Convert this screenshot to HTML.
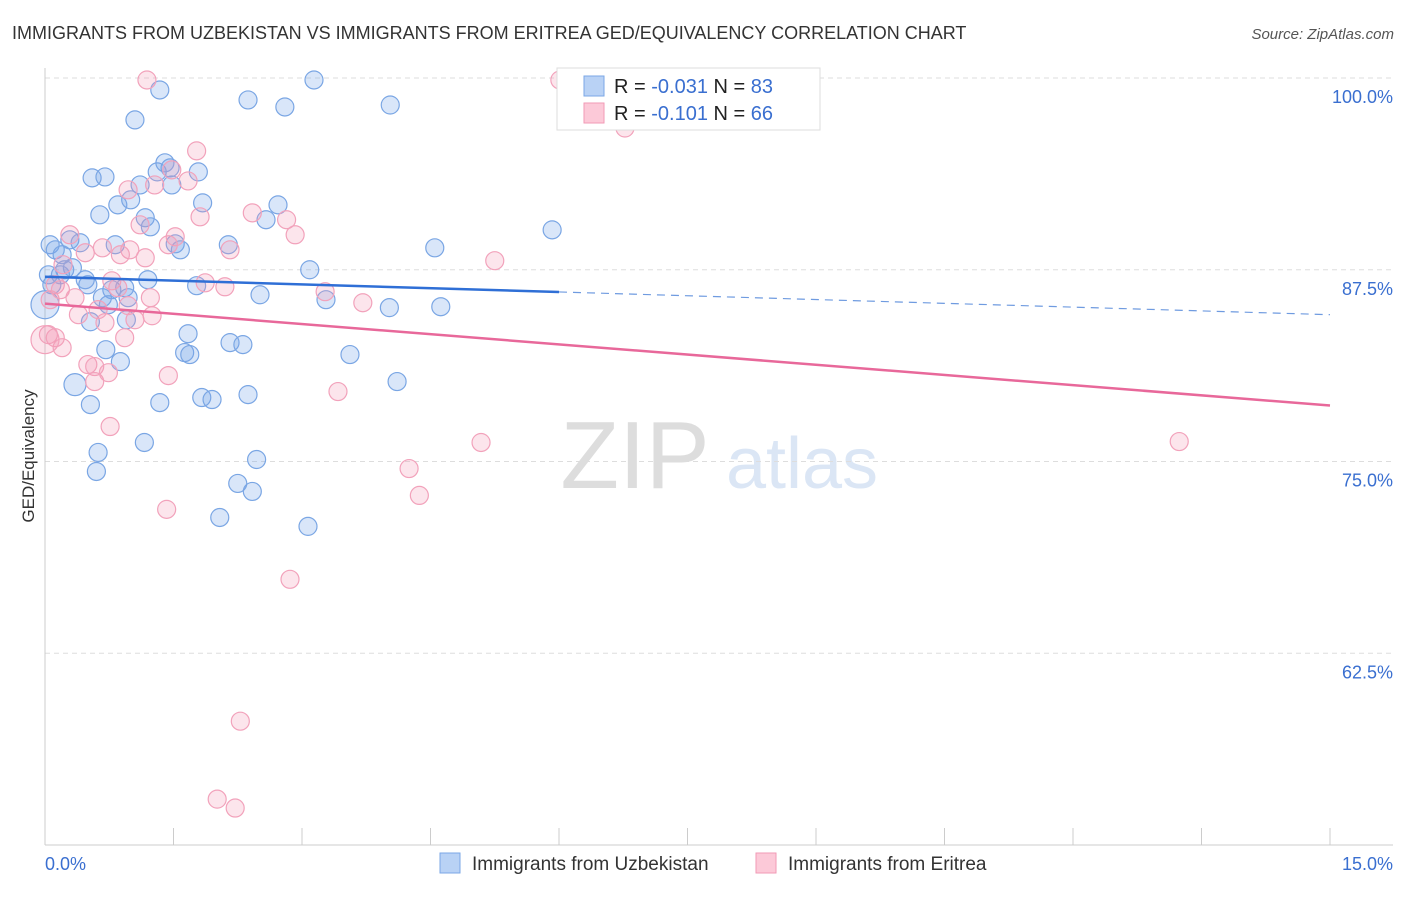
<!DOCTYPE html>
<html><head><meta charset="utf-8"><style>
body{margin:0;background:#fff;font-family:"Liberation Sans",sans-serif;}
svg text{font-family:"Liberation Sans",sans-serif;}
</style></head><body>
<svg id="chart" width="1406" height="892" viewBox="0 0 1406 892" xmlns="http://www.w3.org/2000/svg">
<text x="12" y="39" font-size="18" fill="#333">IMMIGRANTS FROM UZBEKISTAN VS IMMIGRANTS FROM ERITREA GED/EQUIVALENCY CORRELATION CHART</text>
<text x="1394" y="39" font-size="15" fill="#555" font-style="italic" text-anchor="end">Source: ZipAtlas.com</text>
<g>
<text x="635" y="488" font-size="96" fill="#ddd" font-family="Liberation Serif" text-anchor="middle">ZIP</text>
<text x="802" y="488" font-size="72" fill="#dbe6f5" text-anchor="middle">atlas</text>
</g>
<g id="grid"></g>
<g id="axes"></g>
<g id="pts"></g>
<g id="trend"></g>
<text transform="translate(34,456) rotate(-90)" font-size="17" fill="#333" text-anchor="middle">GED/Equivalency</text>
<g>
<rect x="557" y="68" width="263" height="62" fill="#fff" stroke="#ddd"/>
<rect x="584" y="76" width="20" height="20" fill="#b9d2f5" stroke="#7ba7e6"/>
<rect x="584" y="103" width="20" height="20" fill="#fcc9d8" stroke="#f29ab6"/>
<text x="614" y="93" font-size="20" fill="#222">R = <tspan fill="#3a6fd0">-0.031</tspan>   N = <tspan fill="#3a6fd0">83</tspan></text>
<text x="614" y="120" font-size="20" fill="#222">R =  <tspan fill="#3a6fd0">-0.101</tspan>   N = <tspan fill="#3a6fd0">66</tspan></text>
</g>
<g>
<rect x="440" y="853" width="20" height="20" fill="#b9d2f5" stroke="#7ba7e6"/>
<text x="472" y="870" font-size="19" fill="#333">Immigrants from Uzbekistan</text>
<rect x="756" y="853" width="20" height="20" fill="#fcc9d8" stroke="#f29ab6"/>
<text x="788" y="870" font-size="19" fill="#333">Immigrants from Eritrea</text>
</g>
</svg>
<script>
const yTicks=[100,87.5,75,62.5];
const yTickLabels=["100.0%","87.5%","75.0%","62.5%"];
const xTickLabels=["0.0%","15.0%"];
const blueX=[.06,.12,.20,.29,.04,.08,.18,.23,.32,.41,.47,.50,.53,.53,.62,.60,.64,.55,.70,.85,.82,.78,.74,.67,.71,.88,.93,.97,.95,1.05,1.00,1.11,1.17,1.23,1.20,1.16,1.34,1.31,1.40,1.46,1.48,1.52,1.58,1.79,1.84,1.34,1.67,1.63,1.69,1.77,1.83,1.95,2.14,2.16,2.31,2.37,2.37,2.25,2.42,2.47,2.04,2.51,2.58,2.72,2.80,3.14,3.09,3.28,3.07,3.56,4.03,4.02,4.11,4.55,4.62,5.92,0,.35];
const blueY=[89.13,88.80,88.48,89.45,87.17,86.52,87.17,87.50,87.63,89.26,86.85,86.52,84.11,78.71,75.59,74.35,91.08,93.49,93.55,91.73,89.13,86.20,85.22,85.68,82.29,81.51,86.33,85.68,84.24,97.27,92.06,93.03,90.89,90.30,86.85,76.24,99.22,93.88,94.47,94.14,93.03,89.19,88.80,93.88,91.86,78.84,83.33,82.10,81.97,86.46,79.17,79.04,89.13,82.75,82.62,98.57,79.36,73.57,73.05,75.13,71.35,85.87,90.76,91.73,98.11,99.87,87.50,85.55,70.77,81.97,98.24,85.03,80.21,88.93,85.09,90.10,85.22,80.01];
const pinkX=[1.19,6.01,6.77,1.77,1.67,1.28,.97,1.48,1.81,2.42,2.82,2.92,2.16,2.10,1.87,1.52,1.44,1.17,1.11,.99,.88,.67,.47,.29,.21,.12,.06,.18,.35,.39,.70,.78,.85,.93,1.23,1.25,1.05,.97,.62,.50,.58,.58,.74,.04,.12,.20,.76,1.44,1.42,2.86,3.27,3.71,3.42,4.25,4.37,5.09,5.25,13.24,2.28,2.01,2.22,0];
const pinkY=[99.87,99.87,96.74,95.25,93.29,93.03,92.71,94.01,90.95,91.21,90.76,89.78,88.80,86.39,86.65,89.65,89.13,88.28,90.43,88.80,88.48,88.93,88.61,89.78,87.83,86.52,85.55,86.20,85.68,84.57,84.05,86.78,86.33,83.07,85.68,84.50,84.24,85.16,84.90,81.32,81.19,80.21,80.79,83.27,83.07,82.42,77.28,80.60,71.88,67.32,86.07,85.35,79.56,74.54,72.79,76.24,88.09,76.30,58.07,52.99,52.41,82.94];
const blueTrend=[87.04,84.57];
const pinkTrend=[85.29,78.65];
const NS="http://www.w3.org/2000/svg";
const X=v=>45+v/15*1285, Y=v=>78+(100-v)/50*767;
function mk(t,a,p){const e=document.createElementNS(NS,t);for(const k in a)e.setAttribute(k,a[k]);document.getElementById(p).appendChild(e);return e;}
yTicks.forEach((t,i)=>{
 const g=mk('line',{x1:45,x2:1393,y1:Y(t),y2:Y(t),stroke:'#ddd','stroke-dasharray':'5,4'},'grid');
 
 
 const l=mk('text',{x:1393,y:Y(t)+25,'font-size':18,fill:'#3a6fd0','text-anchor':'end'},'axes');
 l.textContent=yTickLabels[i];
 
 
});
mk('line',{x1:45,x2:45,y1:68,y2:845,stroke:'#ccc'},'axes');
mk('line',{x1:45,x2:1393,y1:845,y2:845,stroke:'#ccc'},'axes');
for(let i=0;i<=10;i++){const t=mk('line',{x1:X(i*1.5),x2:X(i*1.5),y1:828,y2:845,stroke:'#ccc'},'axes');
 
 }
[[0,'start'],[15,'end']].forEach((d,i)=>{const l=mk('text',{x:i?1393:45,y:870,'font-size':18,fill:'#3a6fd0','text-anchor':d[1]},'axes');
 l.textContent=xTickLabels[i];
 
 });
function pts(xs,ys,fill,stroke,name){xs.forEach((x,i)=>{const r=(x===0)?14:(i===xs.length-1&&name==='uzbekistan-point')?11:9;
 const c=mk('circle',{cx:X(x),cy:Y(ys[i]),r:r,fill:fill,stroke:stroke,'stroke-width':1.2},'pts');
 
 });}
pts(blueX,blueY,'rgba(120,165,235,0.28)','#7aa6e4','uzbekistan-point');
pts(pinkX,pinkY,'rgba(245,150,180,0.25)','#f2a2bb','eritrea-point');
const bm=blueTrend[0]+(blueTrend[1]-blueTrend[0])*6/15;
let e=mk('line',{x1:X(0),y1:Y(blueTrend[0]),x2:X(6),y2:Y(bm),stroke:'#2f6fd6','stroke-width':2.5},'trend');


e=mk('line',{x1:X(6),y1:Y(bm),x2:X(15),y2:Y(blueTrend[1]),stroke:'#6f9be0','stroke-width':1.2,'stroke-dasharray':'8,6'},'trend');


e=mk('line',{x1:X(0),y1:Y(pinkTrend[0]),x2:X(15),y2:Y(pinkTrend[1]),stroke:'#e8689a','stroke-width':2.5},'trend');


</script>
</body></html>
